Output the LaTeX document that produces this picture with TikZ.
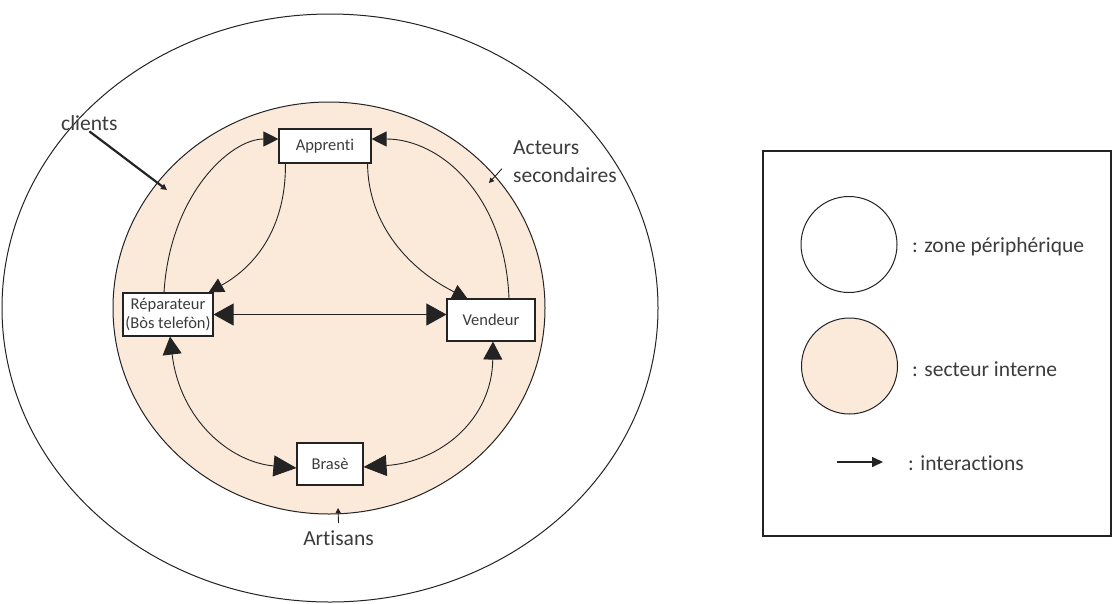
\documentclass[tikz,border=0pt]{standalone}
\usepackage{fontspec}
\setmainfont{Carlito}[Ligatures={NoCommon}]
\usetikzlibrary{arrows.meta}
\definecolor{peach}{RGB}{251,233,218}
\definecolor{ink}{RGB}{35,35,35}
\definecolor{txt}{RGB}{60,60,60}
\tikzset{
  ta/.tip={Triangle[length=15pt,width=15pt]},
  tb/.tip={Triangle[length=20pt,width=22pt]},
  tc/.tip={Triangle[length=18pt,width=19pt]},
  td/.tip={Triangle[length=23pt,width=21pt]},
  st/.tip={Triangle[length=6pt,width=6pt]},
  boxnode/.style={draw=ink, line width=1.1pt, fill=white, rectangle, inner sep=0pt,
    align=center, font=\fontsize{16.5}{18.5}\selectfont, text=txt},
  lab/.style={font=\fontsize{21.5}{26}\selectfont, text=txt, inner sep=0pt},
  link/.style={draw=ink, line width=0.9pt},
  ring/.style={draw=ink, line width=1pt},
}
\begin{document}
\begin{tikzpicture}[x=1pt,y=-1pt]
\useasboundingbox (0,0) rectangle (1113,603);
% zones
\draw[ring, fill=white] (330,308) ellipse [x radius=328pt, y radius=294pt];
\draw[ring, fill=peach] (329,308) ellipse [x radius=216pt, y radius=206pt];
% actors
\node[boxnode, minimum width=92pt, minimum height=34pt] (app) at (325,146) {Apprenti};
\node[boxnode, minimum width=90pt, minimum height=43pt] (rep) at (168,314.5) {Réparateur\\(Bòs telefòn)};
\node[boxnode, minimum width=88pt, minimum height=42pt] (ven) at (491,320) {Vendeur};
\node[boxnode, minimum width=66pt, minimum height=42pt] (bra) at (330,464) {Brasè};
% interactions
\draw[link, -ta] ([xshift=-4pt]rep.north) .. controls (170,195) and (230,139) .. ([yshift=7pt]app.west);
\draw[link, -ta] ([xshift=18pt]ven.north) .. controls (505,195) and (440,139) .. ([yshift=7pt]app.east);
\draw[link, -ta] ([xshift=7pt]app.south west) .. controls (286,225) and (258,265) .. ([xshift=-5pt]rep.north east);
\draw[link, -ta] ([xshift=-4pt]app.south east) .. controls (368,225) and (410,270) .. ([xshift=21pt]ven.north west);
\draw[link, tb-tb] (rep.east) -- (rep.east -| ven.west);
\draw[link, {tc}-{td}] ([xshift=2pt]rep.south) .. controls (180,420) and (230,462) .. ([yshift=-4pt]bra.west);
\draw[link, {tc}-{td}] ([xshift=2pt]ven.south) .. controls (492,420) and (440,462) .. ([yshift=-3pt]bra.east);
% labels
\node[lab, anchor=base west] (cli) at (61,130) {clients};
\coordinate (clitip) at (167,190);
\draw[draw=ink, line width=2.2pt, -st] ([yshift=-1pt]cli.south) -- (clitip);
\node[lab, anchor=base west] (act1) at (513,154) {Acteurs};
\node[lab, anchor=base west] (act2) at (513,182) {secondaires};
\coordinate (acttip) at (489,183);
\draw[link, -{Triangle[length=5pt,width=5pt]}] ([xshift=-11pt,yshift=6pt]act2.west) -- (acttip);
\node[lab, anchor=base] (art) at (338.5,545) {Artisans};
\coordinate (arttip) at (338,508);
\draw[link, -{Triangle[length=5pt,width=5pt]}] ([yshift=7pt]art.north) -- (arttip);
% legend
\node[draw=ink, line width=1.2pt, minimum width=348pt, minimum height=385pt, inner sep=0pt] (leg) at (937,343.5) {};
\node[circle, draw=ink, line width=1pt, fill=white, minimum size=96pt, inner sep=0pt] (zc1) at (849,244.5) {};
\node[circle, draw=ink, line width=1pt, fill=peach, minimum size=96pt, inner sep=0pt] (zc2) at (849.5,366) {};
\node[lab, anchor=base west] (t1) at (912,252) {: zone périphérique};
\node[lab, anchor=base west] (t2) at (912,376) {: secteur interne};
\node[lab, anchor=base west] (t3) at (908,470) {: interactions};
\coordinate (la1) at (837,462);
\coordinate (la2) at (883,462);
\draw[draw=ink, line width=1.6pt, -{Triangle[length=11pt,width=10pt]}] (la1) -- (la2);
\end{tikzpicture}
\end{document}
